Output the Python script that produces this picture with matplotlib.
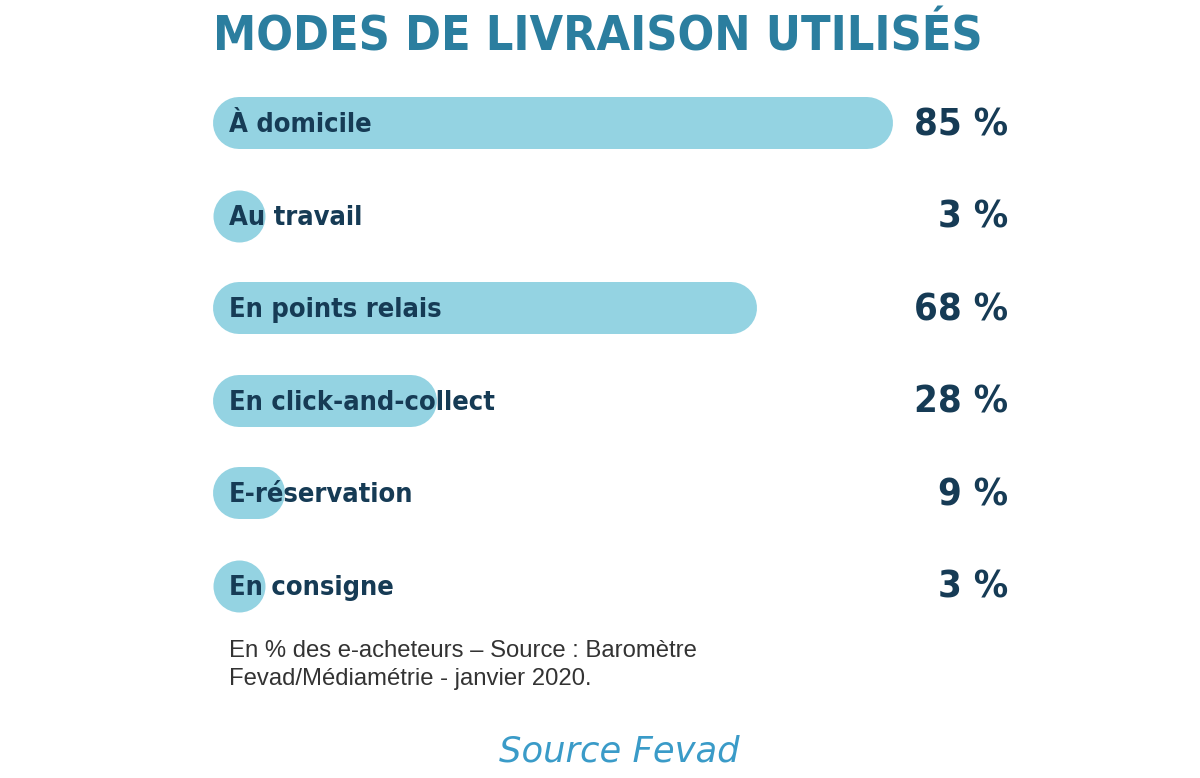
import matplotlib.pyplot as plt
from matplotlib import font_manager
from matplotlib.font_manager import FontProperties

categories = ['À domicile', 'Au travail', 'En points relais',
              'En click-and-collect', 'E-réservation', 'En consigne']
values = [85, 3, 68, 28, 9, 3]
value_labels = ['85 %', '3 %', '68 %', '28 %', '9 %', '3 %']

title = 'MODES DE LIVRAISON UTILISÉS'
note = 'En % des e-acheteurs – Source : Baromètre\nFevad/Médiamétrie - janvier 2020.'
credit = 'Source Fevad'

# condensed face if the system has one
fp = FontProperties(family='DejaVu Sans', stretch='condensed', weight='bold')
cond = 'Condensed' in font_manager.findfont(fp)
k = 1.0 / 0.82 if cond else 1.0
stretch = 'condensed' if cond else 'normal'

BAR = '#94d3e2'
DARK = '#163b55'
TEAL = '#2b7e9f'

fig = plt.figure(figsize=(12, 7.78), dpi=100)
# axes: 800 px wide -> 8 px per percent
ax = fig.add_axes([213 / 1200, 1 - 632 / 778, 800 / 1200, (632 - 77) / 778])
ax.set_xlim(0, 100)
ax.set_ylim(5.5, -0.5)
ax.axis('off')

bar_px = 52
lw = bar_px * 72 / 100
r = bar_px / 2 / 8  # cap radius in data units

for i, (cat, v, lab) in enumerate(zip(categories, values, value_labels)):
    x1 = v - r
    if x1 > r:
        ax.plot([r, x1], [i, i], color=BAR, lw=lw, solid_capstyle='round', zorder=1)
    else:
        # value too small for a pill: just the round cap
        ax.plot([r], [i], marker='o', ms=lw, color=BAR, mec='none', zorder=1)
    ax.text(2.0, i + 0.02, cat, ha='left', va='center', fontsize=16 * k,
            fontweight='bold', fontstretch=stretch, color=DARK,
            family='DejaVu Sans', zorder=2)
    ax.text(99.4, i + 0.02, lab, ha='right', va='center', fontsize=22.5 * k,
            fontweight='heavy', fontstretch=stretch, color=DARK,
            family='DejaVu Sans', zorder=2)

fig.text(213 / 1200, 1 - 37 / 778, title, ha='left', va='center', fontsize=28.5 * k,
         fontweight='bold', fontstretch=stretch, color=TEAL, family='DejaVu Sans')
fig.text(229 / 1200, 1 - 665 / 778, note, ha='left', va='center', fontsize=17.2,
         color='#333333', family='Liberation Sans', linespacing=1.3)
fig.text(619 / 1200, 1 - 752 / 778, credit, ha='center', va='center', fontsize=25.5,
         style='italic', color='#3a9bc8', family='DejaVu Sans')

fig.savefig('out.png', dpi=100, facecolor='white')
